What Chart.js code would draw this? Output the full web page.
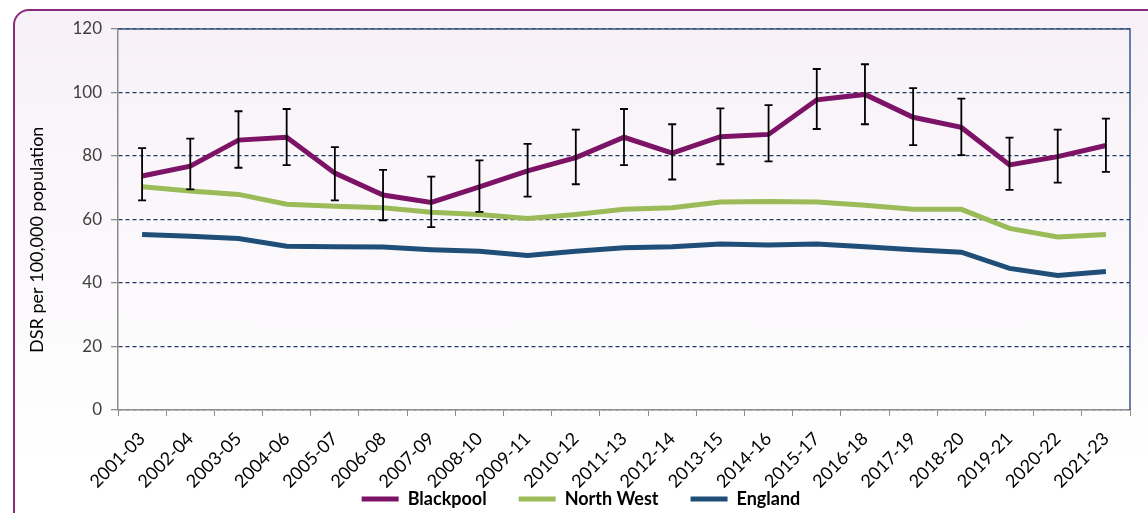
<!DOCTYPE html>
<html>
<head>
<meta charset="utf-8">
<script src="https://cdn.jsdelivr.net/npm/chart.js@4.4.1/dist/chart.umd.min.js"></script>
<style>
  html, body { margin: 0; padding: 0; background: #ffffff; overflow: hidden; }
  #marco {
    position: absolute; left: 13px; top: 9px; width: 1150px; height: 530px;
    border: 2px solid #8a2a7c; border-radius: 16px;
    background: linear-gradient(#f7f1f7, #ffffff 85%);
  }
  #grafico { position: absolute; left: 0; top: 0; }
</style>
</head>
<body>
<div id="marco"></div>
<canvas id="grafico" width="1148" height="513"></canvas>
<script>
const periodos = ["2001-03", "2002-04", "2003-05", "2004-06", "2005-07", "2006-08", "2007-09",
  "2008-10", "2009-11", "2010-12", "2011-13", "2012-14", "2013-15", "2014-16", "2015-17",
  "2016-18", "2017-19", "2018-20", "2019-21", "2020-22", "2021-23"];
const blackpool = [73.7, 76.8, 85.0, 85.9, 74.6, 67.7, 65.4, 70.3, 75.3, 79.5, 85.9,
  80.9, 86.1, 86.8, 97.7, 99.4, 92.2, 89.0, 77.2, 79.8, 83.3];
const blackpool_inf = [66.0, 69.5, 76.3, 77.1, 66.0, 59.7, 57.6, 62.4, 67.2, 71.1, 77.1,
  72.6, 77.4, 78.3, 88.5, 90.0, 83.4, 80.3, 69.3, 71.6, 75.0];
const blackpool_sup = [82.5, 85.5, 94.1, 94.8, 82.8, 75.6, 73.5, 78.6, 83.8, 88.3, 94.8,
  90.0, 95.0, 96.0, 107.4, 108.9, 101.4, 98.1, 85.8, 88.3, 91.8];
const north_west = [70.3, 69.0, 67.9, 64.8, 64.2, 63.7, 62.3, 61.6, 60.3, 61.6, 63.2,
  63.7, 65.5, 65.7, 65.5, 64.5, 63.2, 63.2, 57.2, 54.5, 55.3];
const england = [55.3, 54.7, 54.0, 51.6, 51.4, 51.3, 50.5, 50.0, 48.7, 50.0, 51.1,
  51.4, 52.3, 52.0, 52.3, 51.4, 50.5, 49.7, 44.6, 42.4, 43.6];

// barras de error de Blackpool y borde superior/derecho del área
const plugin_barras_error = {
  id: "barrasError",
  afterLayout: (chart) => {
    // la leyenda se monta sobre la zona de etiquetas del eje x, como en el original
    const leg = chart.legend;
    const alto = leg.bottom - leg.top;
    leg.top = 458;
    leg.bottom = 458 + alto;
    leg.left += 4;
    leg.right += 4;
  },
  beforeDatasetsDraw: (chart) => {
    const { ctx, chartArea } = chart;
    ctx.save();
    ctx.strokeStyle = "#3d5a80";
    ctx.lineWidth = 1.5;
    ctx.beginPath();
    ctx.moveTo(chartArea.left, chartArea.top);
    ctx.lineTo(chartArea.right, chartArea.top);
    ctx.lineTo(chartArea.right, chartArea.bottom);
    ctx.stroke();
    ctx.restore();
  },
  afterDatasetsDraw: (chart) => {
    const { ctx } = chart;
    const x = chart.scales.x;
    const y = chart.scales.y;
    ctx.save();
    ctx.strokeStyle = "#000000";
    ctx.lineWidth = 1.8;
    blackpool_inf.forEach((inf, i) => {
      const px = x.getPixelForValue(i);
      const y1 = y.getPixelForValue(inf);
      const y2 = y.getPixelForValue(blackpool_sup[i]);
      ctx.beginPath();
      ctx.moveTo(px, y1);
      ctx.lineTo(px, y2);
      ctx.moveTo(px - 4, y1);
      ctx.lineTo(px + 4, y1);
      ctx.moveTo(px - 4, y2);
      ctx.lineTo(px + 4, y2);
      ctx.stroke();
    });
    ctx.restore();
  },
};

const fuente = "Lato, 'Open Sans', sans-serif";
const ctx = document.getElementById("grafico").getContext("2d");
const chart_dsr = new Chart(ctx, {
  type: "line",
  data: {
    labels: periodos,
    datasets: [
      {
        label: "Blackpool",
        data: blackpool,
        borderColor: "#7c1366",
        backgroundColor: "#7c1366",
        borderWidth: 5,
        pointRadius: 0,
        tension: 0,
      },
      {
        label: "North West",
        data: north_west,
        borderColor: "#9bbb59",
        backgroundColor: "#9bbb59",
        borderWidth: 5,
        pointRadius: 0,
        tension: 0,
      },
      {
        label: "England",
        data: england,
        borderColor: "#1f4e79",
        backgroundColor: "#1f4e79",
        borderWidth: 5,
        pointRadius: 0,
        tension: 0,
      },
    ],
  },
  options: {
    responsive: false,
    animation: false,
    layout: { padding: { left: 24, right: 18, top: 29, bottom: -54 } },
    scales: {
      x: {
        offset: true,
        grid: {
          offset: true,
          drawOnChartArea: false,
          drawTicks: true,
          tickLength: 6,
          tickColor: "#8c8c8c",
        },
        border: { color: "#8c8c8c", width: 1.5 },
        ticks: {
          autoSkip: false,
          minRotation: 45,
          maxRotation: 45,
          color: "#000000",
          font: { family: fuente, size: 18 },
          padding: 12,
        },
        afterFit: (scale) => {
          scale.height = 97;
        },
      },
      y: {
        min: 0,
        max: 120,
        ticks: {
          stepSize: 20,
          color: "#404040",
          font: { family: fuente, size: 17 },
          padding: 9,
        },
        grid: {
          color: "#1f3a5f",
          lineWidth: 1.3,
          tickLength: 7,
          tickColor: "#8c8c8c",
        },
        border: { color: "#8c8c8c", width: 1.5, dash: [4, 3] },
        title: {
          display: true,
          text: "DSR per 100,000 population\u2003\u2003\u2003",
          color: "#000000",
          font: { family: fuente, size: 18 },
          padding: 2,
        },
        afterFit: (scale) => {
          scale.width = 94;
        },
      },
    },
    plugins: {
      legend: {
        position: "bottom",
        labels: {
          usePointStyle: true,
          pointStyle: "line",
          pointStyleWidth: 37,
          boxHeight: 16,
          padding: 32,
          color: "#000000",
          font: { family: fuente, size: 18, weight: "bold" },
        },
      },
      tooltip: { enabled: false },
    },
  },
  plugins: [plugin_barras_error],
});
</script>
</body>
</html>
